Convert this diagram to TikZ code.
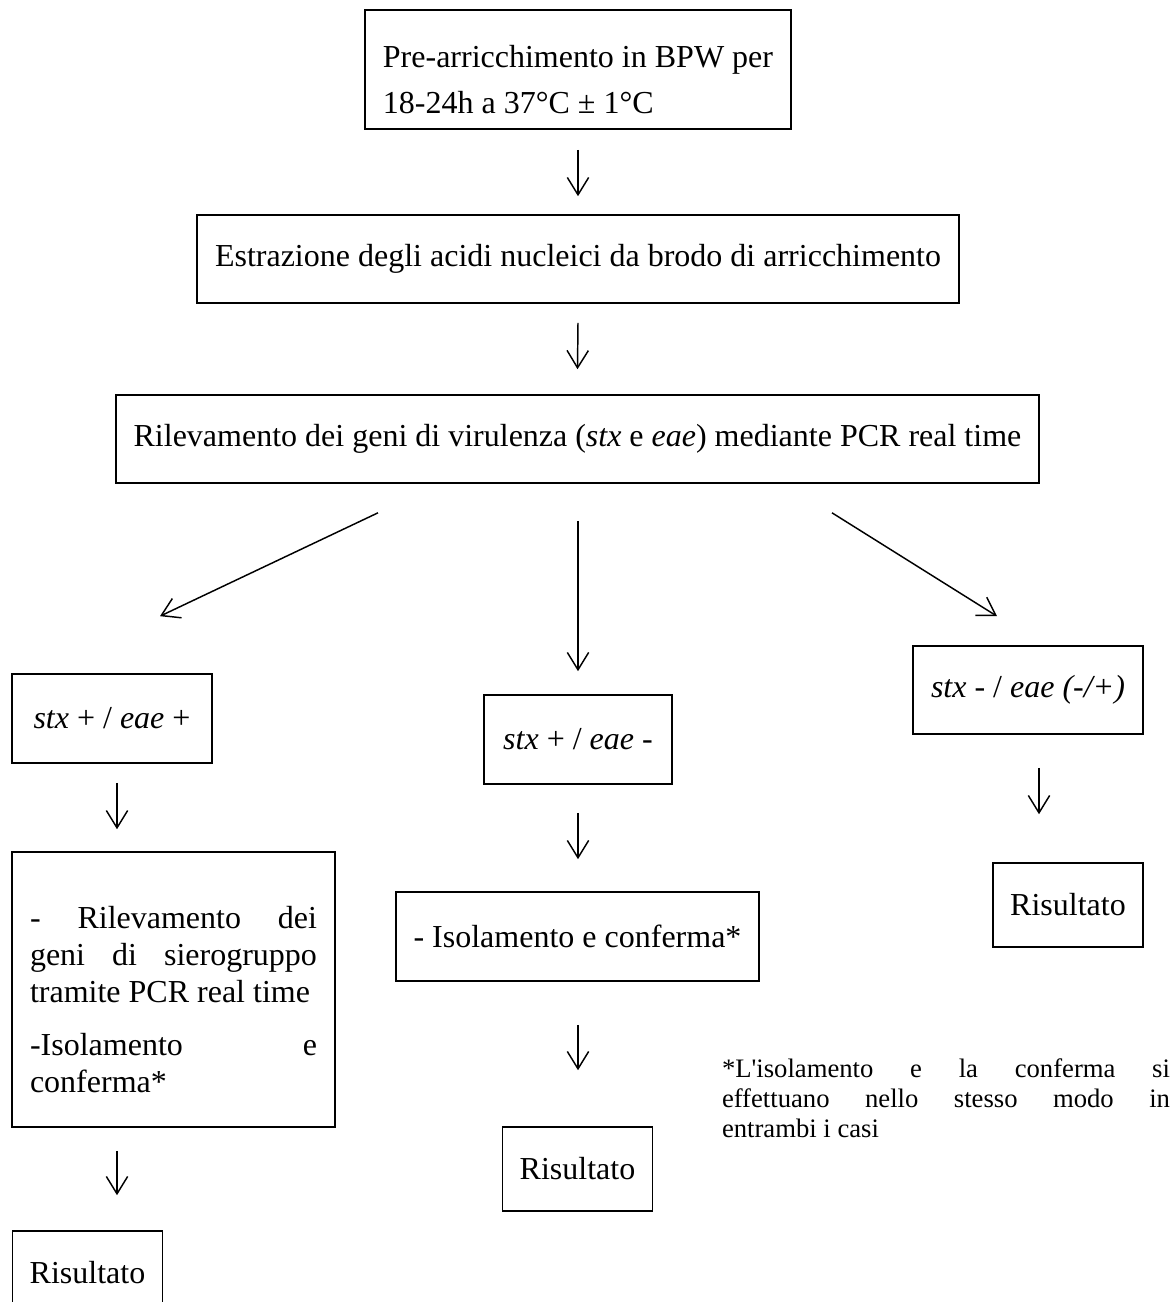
\documentclass[tikz,border=0pt]{standalone}
\usepackage{fontspec}
\setmainfont{Liberation Serif}
\usepackage{tikz}
\usetikzlibrary{arrows.meta, positioning, calc}
\setlength{\parindent}{0pt}

\begin{document}
\begin{tikzpicture}[
  x=0.375pt, y=0.375pt,
  pbox/.style={draw, line width=0.6pt, inner sep=0pt, minimum height=33.4pt, align=center, font=\fontsize{12}{14}\selectfont},
  nbox/.style={inner sep=0pt, text width=168pt, align=justify, font=\fontsize{10}{11.25}\selectfont},
  arr/.style={line width=0.55pt, -{Straight Barb[length=6.5pt, width=8pt]}}
]
  \useasboundingbox (0,0) rectangle (1172,-1302);

  \node[pbox, minimum width=159.75pt, minimum height=44.6pt, align=left, font=\fontsize{12}{17.25}\selectfont] (pre) at (578,-69.5)
    {\rule{0pt}{16pt}Pre-arricchimento in BPW per\\18-24h a 37°C ± 1°C};
  \node[pbox, minimum width=285.75pt, minimum height=33pt] (estr) at (578,-259)
    {Estrazione degli acidi nucleici da brodo di arricchimento};
  \node[pbox, minimum width=346.1pt, minimum height=33pt] (pcr) at (577.5,-439)
    {Rilevamento dei geni di virulenza (\textit{stx} e \textit{eae}) mediante PCR real time};

  \node[pbox, minimum width=75pt] (pos) at (112,-718.5) {\textit{stx} + / \textit{eae} +};
  \node[pbox, minimum width=70.5pt] (mid) at (578,-739.5) {\textit{stx} + / \textit{eae} -};
  \node[pbox, minimum width=86.25pt, minimum height=33pt] (neg) at (1028,-690) {\textit{stx} - / \textit{eae (-/+)}};

  \node[pbox, text width=107.6pt, inner xsep=6.75pt, minimum height=103.1pt, align=justify, font=\fontsize{12}{13.9}\selectfont] (sero) at (173.5,-989.5)
    {\rule{0pt}{16pt}- Rilevamento dei\linebreak geni di sierogruppo\linebreak tramite PCR real time\par\vspace{6pt}-Isolamento e\linebreak conferma*};
  \node[pbox, minimum width=136.1pt] (iso) at (577.5,-936.5) {- Isolamento e conferma*};
  \node[pbox, minimum width=56.25pt, minimum height=31.5pt] (resR) at (1068,-905) {Risultato};

  \node[pbox, minimum width=56.25pt, minimum height=31.5pt] (resM) at (577.5,-1169) {Risultato};
  \node[pbox, minimum width=56.25pt, minimum height=31.5pt] (resL) at (87.5,-1273) {Risultato};

  \node[nbox] (nota) at (946,-1098)
    {*L\textquotesingle isolamento e la conferma si\linebreak effettuano nello stesso modo in\linebreak entrambi i casi};

  \draw[arr] ($(pre.south)+(0,-20)$) -- ($(estr.north)+(0,18)$);
  \draw[arr] ($(estr.south)+(0,-19)$) -- ($(pcr.north)+(0,25)$);
  \draw[arr] ($(pcr.south)+(-199.5,-29)$) -- ($(pos.north)+(48,57)$);
  \draw[arr] ($(pcr.south)+(0.5,-37)$) -- ($(mid.north)+(0,23)$);
  \draw[arr] ($(pcr.south)+(254.5,-29)$) -- ($(neg.north)+(-31,29)$);
  \draw[arr] ($(pos.south)+(5,-19)$) -- ($(sero.north)+(-56.5,22)$);
  \draw[arr] ($(mid.south)+(0,-28)$) -- ($(iso.north)+(0.5,32)$);
  \draw[arr] ($(neg.south)+(11,-33)$) -- ($(resR.north)+(-29,48)$);
  \draw[arr] ($(sero.south)+(-56.5,-23)$) -- ($(resL.north)+(29.5,35)$);
  \draw[arr] ($(iso.south)+(0.5,-43)$) -- ($(resM.north)+(0.5,56)$);
\end{tikzpicture}
\end{document}
